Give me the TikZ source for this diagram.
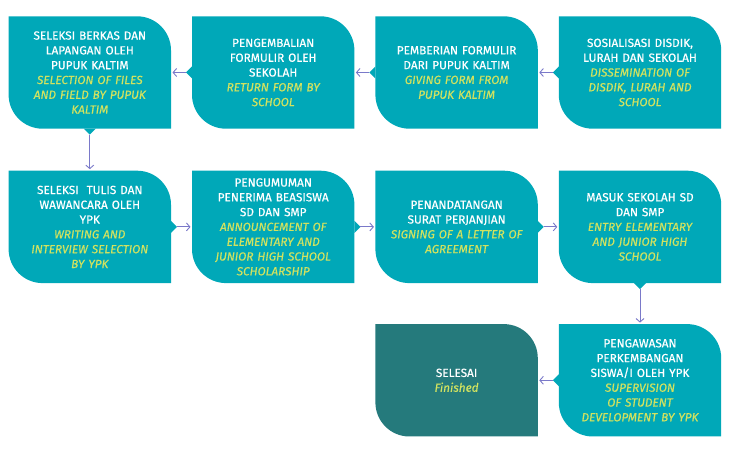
\documentclass[tikz,border=0pt]{standalone}
\usepackage{fontspec}
\setmainfont{Fira Sans}[FakeBold=0.5]
\usetikzlibrary{
  arrows.meta,
  positioning,
  backgrounds
}
\definecolor{stageTeal}{rgb}{0.0,0.659,0.722}
\definecolor{doneTeal}{rgb}{0.145,0.478,0.486}
\definecolor{engYellow}{rgb}{0.820,0.886,0.376}
\definecolor{flowBlue}{rgb}{0.478,0.475,0.788}
\newcommand{\engtext}[1]{{\color{engYellow}\itshape #1}}
\tikzset{
  stage/.style={
    text=white,
    align=center,
    inner sep=0pt,
    text width=156pt,
    minimum width=162pt,
    minimum height=112pt,
    font=\fontsize{11.8}{14.8}\selectfont
  }
}

\begin{document}
\begin{tikzpicture}[
      >={Straight Barb[length=3.5pt,width=8pt]},
      node distance=21pt,
      flow/.style={->, draw=flowBlue, line width=0.9pt, shorten >=1.5pt}
      ]
      \useasboundingbox (0,0) rectangle (732pt,-454pt);

      % first row, read from right to left
      \node[stage] (sos) at (640pt,-72.5pt)
        {SOSIALISASI DISDIK,\\LURAH DAN SEKOLAH\\\engtext{DISSEMINATION OF\\DISDIK, LURAH AND\\SCHOOL}};
      \node[stage, left=of sos] (beri)
        {PEMBERIAN FORMULIR\\DARI PUPUK KALTIM\\\engtext{GIVING FORM FROM\\PUPUK KALTIM}};
      \node[stage, left=of beri] (kembali)
        {PENGEMBALIAN\\FORMULIR OLEH\\SEKOLAH\\\engtext{RETURN FORM BY\\SCHOOL}};
      \node[stage, left=of kembali] (berkas)
        {SELEKSI BERKAS DAN\\LAPANGAN OLEH\\PUPUK KALTIM\\\engtext{SELECTION OF FILES\\AND FIELD BY PUPUK\\KALTIM}};

      % second row
      \node[stage, below=42pt of berkas] (tulis)
        {SELEKSI \ TULIS DAN\\WAWANCARA OLEH\\YPK\\\engtext{WRITING AND\\INTERVIEW SELECTION\\BY YPK}};
      \node[stage, right=of tulis] (umum)
        {PENGUMUMAN\\PENERIMA BEASISWA\\SD DAN SMP\\\engtext{ANNOUNCEMENT OF\\ELEMENTARY AND\\JUNIOR HIGH SCHOOL\\SCHOLARSHIP}};
      \node[stage, right=of umum] (tanda)
        {PENANDATANGAN\\SURAT PERJANJIAN\\\engtext{SIGNING OF A LETTER OF\\AGREEMENT}};
      \node[stage, right=of tanda] (masuk)
        {MASUK SEKOLAH SD\\DAN SMP\\\engtext{ENTRY ELEMENTARY\\AND JUNIOR HIGH\\SCHOOL}};

      % third row
      \node[stage, below=41pt of masuk] (awas)
        {PENGAWASAN\\PERKEMBANGAN\\SISWA/I OLEH YPK\\\engtext{SUPERVISION\\OF STUDENT\\DEVELOPMENT BY YPK}};
      \node[stage, left=of awas] (selesai)
        {SELESAI\\\engtext{Finished}};

      \begin{scope}[on background layer]
        \foreach \n/\c in {sos/stageTeal, beri/stageTeal, kembali/stageTeal,
            berkas/stageTeal, tulis/stageTeal, umum/stageTeal, tanda/stageTeal,
            masuk/stageTeal, awas/stageTeal, selesai/doneTeal}{
          \fill[\c] (\n.north west) -- ([xshift=-34pt]\n.north east)
            arc[start angle=90, end angle=0, radius=34pt] -- (\n.south east)
            -- ([xshift=34pt]\n.south west)
            arc[start angle=270, end angle=180, radius=34pt] -- cycle;
        }
        % small pointers where the arrows leave
        \foreach \n/\a in {sos/180, beri/180, kembali/180, berkas/270,
            tulis/0, umum/0, tanda/0, masuk/270, awas/180}{
          \fill[stageTeal] ([shift={(\a+90:6pt)}]\n.\a) -- ([shift={(\a:6pt)}]\n.\a)
            -- ([shift={(\a-90:6pt)}]\n.\a) -- cycle;
        }
      \end{scope}

      \draw[flow] ([xshift=-6pt]sos.west) -- (beri.east);
      \draw[flow] ([xshift=-6pt]beri.west) -- (kembali.east);
      \draw[flow] ([xshift=-6pt]kembali.west) -- (berkas.east);
      \draw[flow] ([yshift=-6pt]berkas.south) -- (tulis.north);
      \draw[flow] ([xshift=6pt]tulis.east) -- (umum.west);
      \draw[flow] ([xshift=6pt]umum.east) -- (tanda.west);
      \draw[flow] ([xshift=6pt]tanda.east) -- (masuk.west);
      \draw[flow] ([yshift=-6pt]masuk.south) -- (awas.north);
      \draw[flow] ([xshift=-6pt]awas.west) -- (selesai.east);
    \end{tikzpicture}
\end{document}
